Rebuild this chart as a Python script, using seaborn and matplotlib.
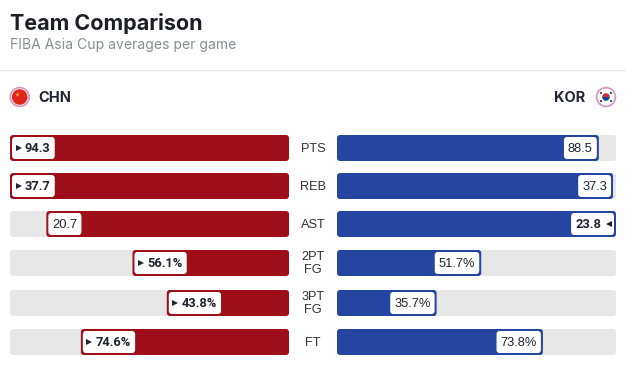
import numpy as np
import matplotlib
matplotlib.use('Agg')
import matplotlib.pyplot as plt
import seaborn as sns
from matplotlib.patches import FancyBboxPatch, Circle, Rectangle, Wedge
from matplotlib.transforms import IdentityTransform

stats = ['PTS', 'REB', 'AST', '2PT\nFG', '3PT\nFG', 'FT']
chn_values = [94.3, 37.7, 20.7, 56.1, 43.8, 74.6]
kor_values = [88.5, 37.3, 23.8, 51.7, 35.7, 73.8]
is_pct = [False, False, False, True, True, True]
teams = ['CHN', 'KOR']

# share of the track: counts against the better team, percentages against 100
chn_share = [c if p else c / max(c, k) * 100 for c, k, p in zip(chn_values, kor_values, is_pct)]
kor_share = [k if p else k / max(c, k) * 100 for c, k, p in zip(chn_values, kor_values, is_pct)]
full_track = [100] * len(stats)

# layout, in reference pixels
W, H = 626, 365
row_mid = [148, 186, 224, 263, 303, 342]
bar_h = 26
RED = '#9e0f19'
BLUE = '#2445a0'
TRACK = '#e7e7e7'
INK = '#1f2430'

sns.set_theme(style='white')
plt.rcParams['font.family'] = ['Liberation Sans', 'DejaVu Sans']

fig = plt.figure(figsize=(W / 100, H / 100), dpi=100, facecolor='white')
ax_l = fig.add_axes([10 / W, 0, 279 / W, 1])
ax_r = fig.add_axes([337 / W, 0, 279 / W, 1])
over = fig.add_axes([0, 0, 1, 1])
over.set_xlim(0, W)
over.set_ylim(H, 0)
over.axis('off')


def draw_side(ax, share, color):
    sns.barplot(x=full_track, y=row_mid, orient='y', native_scale=True, color=TRACK,
                width=bar_h / 38, saturation=1, ax=ax)
    sns.barplot(x=share, y=row_mid, orient='y', native_scale=True, color=color,
                width=bar_h / 38, saturation=1, ax=ax)
    ax.set_ylim(H, 0)
    ax.axis('off')


def round_bars(ax):
    # swap the square bars for rounded ones of the same extent
    for bar in list(ax.patches):
        box = bar.get_window_extent()
        ax.add_patch(FancyBboxPatch((box.x0 + 3, box.y0 + 3), box.width - 6, box.height - 6,
                                    boxstyle='round,pad=3,rounding_size=3',
                                    fc=bar.get_facecolor(), ec='none',
                                    transform=IdentityTransform(), clip_on=False,
                                    zorder=bar.get_zorder() + 1))
        bar.set_visible(False)


draw_side(ax_l, chn_share, RED)
ax_l.set_xlim(100, 0)
draw_side(ax_r, kor_share, BLUE)
ax_r.set_xlim(0, 100)
round_bars(ax_l)
round_bars(ax_r)


def chip(x_edge, y, label, bold, side):
    # white value chip tucked inside the end of a bar
    renderer = fig.canvas.get_renderer()
    font = 'Roboto' if bold else 'Liberation Sans'
    t = over.text(0, y + 0.8, label, fontsize=9.3, family=font,
                  fontweight='bold' if bold else 'normal', color=INK,
                  ha='left', va='center', zorder=6)
    tw = t.get_window_extent(renderer).width
    chip_w = tw + (17 if bold else 8)
    x0 = x_edge + 2 if side == 'l' else x_edge - 2 - chip_w
    over.add_patch(FancyBboxPatch((x0 + 3, y - 8), chip_w - 6, 16,
                                  boxstyle='round,pad=3,rounding_size=3',
                                  fc='white', ec='none', zorder=5))
    if side == 'l':
        t.set_x(x0 + (12.5 if bold else 4))
        if bold:
            over.plot([x0 + 6.5], [y], marker='>', ms=4.8, color=INK, mew=0, zorder=6)
    else:
        t.set_x(x0 + 4)
        if bold:
            over.plot([x0 + chip_w - 5.5], [y], marker='<', ms=4.8, color=INK, mew=0, zorder=6)


for i, stat in enumerate(stats):
    y = row_mid[i]
    suffix = '%' if is_pct[i] else ''
    c, k = chn_values[i], kor_values[i]
    chip(289 - chn_share[i] * 2.79, y, f'{c}{suffix}', c > k, 'l')
    chip(337 + kor_share[i] * 2.79, y, f'{k}{suffix}', k > c, 'r')
    over.text(313, y + 0.5, stat, ha='center', va='center', fontsize=9.2, color='#333333',
              linespacing=1.15)

# header
over.text(10, 23, 'Team Comparison', fontsize=15.5, family='Inter', fontweight='bold',
          color='#1c1f26', va='center')
over.text(10, 45.5, 'FIBA Asia Cup averages per game', fontsize=10.05, family='Inter',
          color='#8a8d93', va='center')
over.plot([0, W], [70, 70], color='#e6e6e6', lw=1)

over.text(38, 97.5, teams[0], fontsize=10.5, family='Inter', fontweight='bold', color=INK, va='center')
over.text(585, 97.5, teams[1], fontsize=10.5, family='Inter', fontweight='bold', color=INK,
          va='center', ha='right')

# flags: pink ring, white gap, then the flag disc
over.add_patch(Circle((19.7, 97), 9.4, fc='white', ec='#d79ac8', lw=1.3, zorder=3))
over.add_patch(Circle((19.7, 97), 7.8, fc='#e0261a', ec='none', zorder=4))
over.plot([16.5], [93.5], marker='*', ms=3.5, color='#f2a030', mew=0, zorder=5)
over.add_patch(Circle((606, 97), 9.4, fc='white', ec='#d79ac8', lw=1.3, zorder=3))
over.add_patch(Wedge((606, 97), 3.8, 180, 360, fc='#cd2e3a', ec='none', zorder=4))
over.add_patch(Wedge((606, 97), 3.8, 0, 180, fc='#0f4a9a', ec='none', zorder=4))
for dx, dy in [(-5, -4), (5, -4), (-5, 4), (5, 4)]:
    over.add_patch(Rectangle((606 + dx - 1, 97 + dy - 1), 2, 2, fc='#555555', ec='none', zorder=4))

fig.savefig('out.png', dpi=100)
